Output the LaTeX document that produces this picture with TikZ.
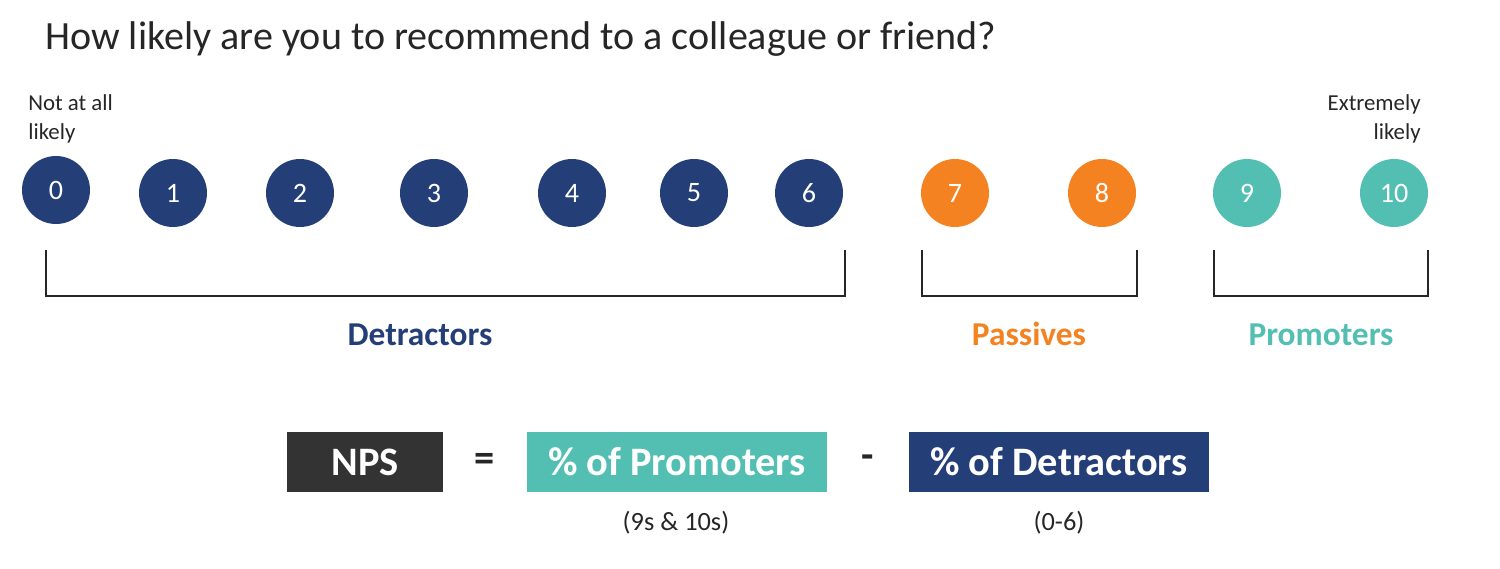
\documentclass[tikz,border=0pt]{standalone}
\usepackage{fontspec}
\setmainfont{Carlito}
\usepackage{xcolor}
\usetikzlibrary{positioning}

\definecolor{npsnavy}{HTML}{243F78}
\definecolor{npsorange}{HTML}{F58220}
\definecolor{npsteal}{HTML}{52BFB2}
\definecolor{npsdark}{HTML}{333333}
\definecolor{npstext}{HTML}{262626}

\begin{document}
\begin{tikzpicture}[
        x=0.02cm, y=-0.02cm,
        every node/.style={text=npstext},
        score/.style={circle, minimum size=1.36cm, inner sep=0pt, text=white, font=\fontsize{16}{16}\selectfont},
        detr/.style={score, fill=npsnavy},
        pass/.style={score, fill=npsorange},
        prom/.style={score, fill=npsteal},
        endlabel/.style={font=\fontsize{13}{16}\selectfont},
        grouplabel/.style={font=\fontsize{19}{19}\selectfont\bfseries, anchor=base},
        bracket/.style={draw=npstext, line width=0.8pt},
        formbox/.style={minimum height=1.2cm, inner sep=0pt, text=white, font=\fontsize{23}{23}\selectfont\bfseries},
        sign/.style={font=\fontsize{23}{23}\selectfont\bfseries},
        note/.style={font=\fontsize{15}{15}\selectfont}
    ]
    \useasboundingbox (0,0) rectangle (1500,568);

    % Question
    \node[anchor=base west, inner sep=0pt, font=\fontsize{22.8}{23}\selectfont] (question) at (45,50)
        {How likely are you to recommend to a colleague or friend?};

    % Scale
    \node[detr] (s0) at (56,190) {0};
    \node[detr] (s1) at (173,193) {1};
    \node[detr] (s2) at (300,193) {2};
    \node[detr] (s3) at (434,193) {3};
    \node[detr] (s4) at (572,193) {4};
    \node[detr] (s5) at (694,193) {5};
    \node[detr] (s6) at (809,193) {6};
    \node[pass] (s7) at (955,193) {7};
    \node[pass] (s8) at (1102,193) {8};
    \node[prom] (s9) at (1247,193) {9};
    \node[prom] (s10) at (1394,193) {10};

    \node[endlabel, anchor=base west, align=left, inner sep=0pt] (lowend) at (28,139) {Not at all\\likely};
    \node[endlabel, anchor=base east, align=right, inner sep=0pt] (highend) at (1421,139) {Extremely\\likely};

    % Groups
    \draw[bracket] (46,250) |- (845,296) -- (845,250);
    \draw[bracket] (922,250) |- (1137,296) -- (1137,250);
    \draw[bracket] (1214,250) |- (1428,296) -- (1428,250);

    \node[grouplabel, text=npsnavy] (detractors) at (420,345) {Detractors};
    \node[grouplabel, text=npsorange] (passives) at (1029,345) {Passives};
    \node[grouplabel, text=npsteal] (promoters) at (1321,345) {Promoters};

    % Formula
    \node[formbox, fill=npsdark, minimum width=3.12cm] (nps) at (365,462) {NPS};
    \node[sign] (equals) at (485,462) {=};
    \node[formbox, fill=npsteal, minimum width=6cm] (pctprom) at (677,462) {\% of Promoters};
    \node[sign] (minus) at (868,462) {-};
    \node[formbox, fill=npsnavy, minimum width=6.02cm] (pctdetr) at (1059,462) {\% of Detractors};

    \node[note] (promrange) at (676,523) {(9s \& 10s)};
    \node[note] (detrrange) at (1059,523) {(0-6)};

\end{tikzpicture}
\end{document}
